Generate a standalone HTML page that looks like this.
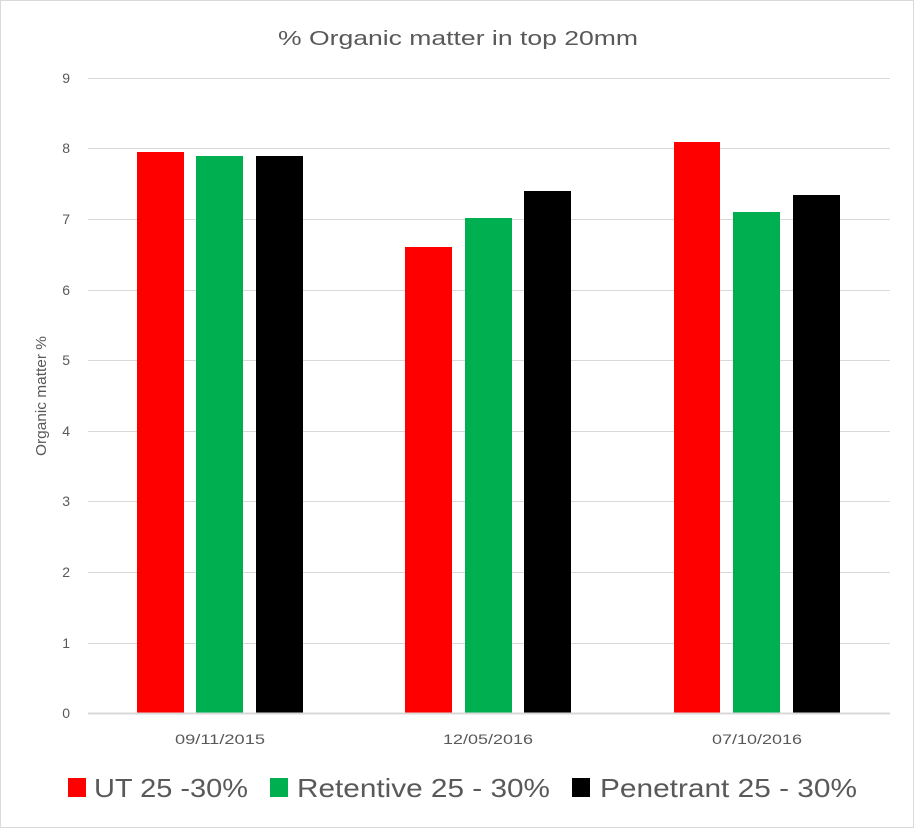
<!DOCTYPE html>
<html><head><meta charset="utf-8"><style>
html,body{margin:0;padding:0;background:#fff}
svg{display:block}
text{font-family:"Liberation Sans",sans-serif;fill:#595959}
</style></head><body>
<svg width="914" height="828" viewBox="0 0 914 828" xmlns="http://www.w3.org/2000/svg">
<rect x="0.5" y="0.5" width="913" height="827" fill="#fff" stroke="#d9d9d9"/>
<text x="458" y="45" font-size="20" text-anchor="middle" textLength="360" lengthAdjust="spacingAndGlyphs">% Organic matter in top 20mm</text>
<g stroke="#d9d9d9" stroke-width="1">
<line x1="88" x2="890" y1="78.5" y2="78.5"/>
<line x1="88" x2="890" y1="148.5" y2="148.5"/>
<line x1="88" x2="890" y1="219.5" y2="219.5"/>
<line x1="88" x2="890" y1="290.5" y2="290.5"/>
<line x1="88" x2="890" y1="360.5" y2="360.5"/>
<line x1="88" x2="890" y1="431.5" y2="431.5"/>
<line x1="88" x2="890" y1="501.5" y2="501.5"/>
<line x1="88" x2="890" y1="572.5" y2="572.5"/>
<line x1="88" x2="890" y1="643.5" y2="643.5"/>
</g>
<g font-size="14" text-anchor="end">
<text x="70" y="83">9</text><text x="70" y="153">8</text><text x="70" y="224">7</text>
<text x="70" y="295">6</text><text x="70" y="365">5</text><text x="70" y="436">4</text>
<text x="70" y="506">3</text><text x="70" y="577">2</text><text x="70" y="648">1</text>
<text x="70" y="718">0</text>
</g>
<text transform="translate(46,396) rotate(-90)" font-size="15" text-anchor="middle" textLength="120" lengthAdjust="spacingAndGlyphs">Organic matter %</text>
<rect x="137" y="152" width="47" height="561" fill="#ff0000"/>
<rect x="196" y="156" width="47" height="557" fill="#00b050"/>
<rect x="256" y="156" width="47" height="557" fill="#000"/>
<rect x="405" y="247" width="47" height="466" fill="#ff0000"/>
<rect x="465" y="218" width="47" height="495" fill="#00b050"/>
<rect x="524" y="191" width="47" height="522" fill="#000"/>
<rect x="674" y="142" width="46" height="571" fill="#ff0000"/>
<rect x="733" y="212" width="47" height="501" fill="#00b050"/>
<rect x="793" y="195" width="47" height="518" fill="#000"/>
<line x1="88" x2="890" y1="713.5" y2="713.5" stroke="#d9d9d9" stroke-width="2"/>
<g font-size="14" text-anchor="middle">
<text x="220" y="744" textLength="90" lengthAdjust="spacingAndGlyphs">09/11/2015</text>
<text x="488" y="744" textLength="90" lengthAdjust="spacingAndGlyphs">12/05/2016</text>
<text x="757" y="744" textLength="90" lengthAdjust="spacingAndGlyphs">07/10/2016</text>
</g>
<rect x="68" y="778" width="18" height="19" fill="#ff0000"/>
<text x="94" y="797" font-size="26" textLength="154" lengthAdjust="spacingAndGlyphs">UT 25 -30%</text>
<rect x="270" y="778" width="18" height="19" fill="#00b050"/>
<text x="297" y="797" font-size="26" textLength="253" lengthAdjust="spacingAndGlyphs">Retentive 25 - 30%</text>
<rect x="572" y="778" width="18" height="19" fill="#000"/>
<text x="600" y="797" font-size="26" textLength="257" lengthAdjust="spacingAndGlyphs">Penetrant 25 - 30%</text>
</svg>
</body></html>
